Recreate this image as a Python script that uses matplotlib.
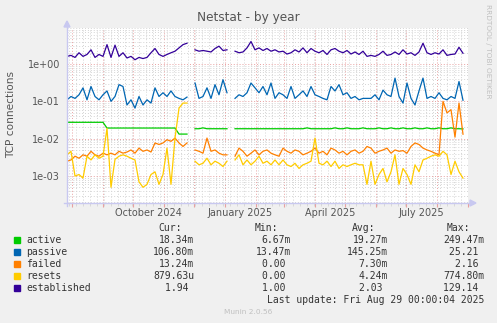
import matplotlib
matplotlib.use("Agg")
import matplotlib.pyplot as plt
import matplotlib.dates as mdates
import matplotlib.ticker as mticker
from matplotlib.patches import Rectangle, Polygon
from matplotlib.lines import Line2D
import numpy as np

# one sample every 4 days, starting 2024-07-27 (None = no data)
established = [1.6, 1.7, 1.5, 2.0, 1.6, 1.8, 2.4, 1.5, 1.8, 1.6,
               3.3, 1.5, 3.2, 1.6, 2.0, 1.45, 1.6, 1.3, 1.5, 1.4,
               1.5, 2.0, 2.6, 1.8, 1.6, 1.8, 2.0, 2.2, 2.7, 3.3,
               3.6, None, 2.4, 2.2, 2.3, 2.2, 2.1, 2.6, 3.0, 2.3,
               2.4, None, 2.2, 2.0, 2.1, 2.7, 4.0, 2.4, 2.7, 2.3,
               2.6, 2.2, 2.4, 2.1, 2.2, 1.85, 2.0, 2.4, 2.1, 2.7,
               2.0, 2.6, 2.2, 2.0, 2.3, 1.8, 2.4, 2.6, 2.2, 2.0,
               2.3, 1.85, 2.1, 1.8, 2.2, 1.6, 1.7, 1.6, 1.8, 2.2,
               1.7, 1.8, 2.1, 1.8, 2.4, 1.85, 2.0, 1.7, 2.1, 3.6,
               2.0, 1.8, 2.0, 1.85, 2.4, 1.7, 1.8, 1.85, 2.8, 1.94]

passive = [0.11, 0.135, 0.12, 0.15, 0.23, 0.11, 0.25, 0.135, 0.11, 0.15,
           0.19, 0.10, 0.135, 0.28, 0.25, 0.08, 0.11, 0.066, 0.135, 0.08,
           0.11, 0.09, 0.23, 0.135, 0.17, 0.135, 0.19, 0.135, 0.12, 0.11,
           0.13, None, 0.31, 0.12, 0.135, 0.23, 0.12, 0.28, 0.15, 0.38,
           0.17, None, 0.12, 0.15, 0.135, 0.17, 0.31, 0.23, 0.17, 0.25,
           0.15, 0.31, 0.12, 0.17, 0.15, 0.12, 0.25, 0.12, 0.15, 0.19,
           0.135, 0.25, 0.15, 0.135, 0.12, 0.11, 0.25, 0.19, 0.28, 0.15,
           0.17, 0.12, 0.135, 0.11, 0.12, 0.12, 0.12, 0.15, 0.11, 0.20,
           0.15, 0.135, 0.42, 0.135, 0.09, 0.31, 0.12, 0.08, 0.19, 0.42,
           0.12, 0.135, 0.12, 0.17, 0.12, 0.11, 0.135, 0.12, 0.34, 0.107]

active = [0.0275, 0.0275, 0.0275, 0.0275, 0.0275, 0.0275, 0.0275, 0.0275, 0.0275, 0.0275,
          0.0193, 0.0193, 0.0193, 0.0193, 0.0193, 0.0193, 0.0193, 0.0193, 0.0193, 0.0193,
          0.0193, 0.0193, 0.0193, 0.0193, 0.0193, 0.0193, 0.0193, 0.0193, 0.0133, 0.0133,
          0.0133, None, 0.0185, 0.0185, 0.0195, 0.0185, 0.0185, 0.0185, 0.0185, 0.0185,
          0.0185, None, 0.0185, 0.0185, 0.0185, 0.0185, 0.0185, 0.0185, 0.0185, 0.0185,
          0.0185, 0.0185, 0.0185, 0.0185, 0.0185, 0.0185, 0.0185, 0.0185, 0.0185, 0.0185,
          0.0195, 0.0185, 0.0185, 0.0185, 0.0185, 0.0185, 0.0185, 0.0195, 0.0185, 0.0185,
          0.0195, 0.0185, 0.0185, 0.0185, 0.0195, 0.0185, 0.0185, 0.0185, 0.0195, 0.0185,
          0.0185, 0.0195, 0.0185, 0.0185, 0.0195, 0.0185, 0.0185, 0.0195, 0.0185, 0.0185,
          0.0195, 0.0185, 0.0185, 0.0195, 0.0185, 0.0185, 0.0195, 0.0185, 0.0185, 0.0183]

failed = [0.0025, 0.0027, 0.0034, 0.003, 0.0037, 0.0034, 0.0046, 0.0037, 0.0034, 0.0041,
          0.0037, 0.0041, 0.0037, 0.0046, 0.0041, 0.0044, 0.005, 0.0041, 0.0056, 0.0046,
          0.005, 0.0044, 0.0077, 0.007, 0.0077, 0.0094, 0.0085, 0.0104, 0.0077, 0.0062,
          0.0077, None, 0.005, 0.0046, 0.0041, 0.0104, 0.0046, 0.005, 0.0041, 0.0037,
          0.0037, None, 0.0034, 0.0056, 0.0046, 0.0034, 0.0041, 0.005, 0.0037, 0.0046,
          0.005, 0.0041, 0.0037, 0.0034, 0.0056, 0.0046, 0.0041, 0.005, 0.0046, 0.0037,
          0.0041, 0.0046, 0.0056, 0.0041, 0.0046, 0.0037, 0.0056, 0.005, 0.0041, 0.0046,
          0.0037, 0.0046, 0.005, 0.0041, 0.0046, 0.0062, 0.0056, 0.0041, 0.0046, 0.005,
          0.0056, 0.0041, 0.005, 0.0046, 0.0048, 0.0041, 0.0062, 0.0077, 0.007, 0.0056,
          0.005, 0.0046, 0.0041, 0.0037, 0.10, 0.049, 0.06, 0.011, 0.09, 0.0132]

resets = [0.0037, 0.0046, 0.001, 0.0011, 0.00088, 0.0034, 0.0027, 0.0037, 0.003, 0.0034,
          0.019, 0.0005, 0.0028, 0.0034, 0.0037, 0.0034, 0.003, 0.0027, 0.0007, 0.0005,
          0.0006, 0.0011, 0.0013, 0.0006, 0.0011, 0.0056, 0.0006, 0.0104, 0.066, 0.09,
          0.09, None, 0.0025, 0.002, 0.0022, 0.003, 0.002, 0.0025, 0.0022, 0.0018,
          0.0025, None, 0.0027, 0.0037, 0.002, 0.0027, 0.002, 0.0025, 0.0034, 0.0022,
          0.0025, 0.002, 0.0027, 0.002, 0.0027, 0.002, 0.0018, 0.0022, 0.0016, 0.002,
          0.0022, 0.0025, 0.0104, 0.0022, 0.002, 0.0025, 0.0018, 0.0025, 0.0016, 0.002,
          0.0018, 0.002, 0.0022, 0.002, 0.002, 0.0006, 0.0025, 0.0006, 0.0011, 0.0016,
          0.0007, 0.0013, 0.0037, 0.0006, 0.0016, 0.0011, 0.0006, 0.002, 0.0013, 0.0027,
          0.003, 0.0034, 0.0037, 0.0034, 0.0046, 0.0037, 0.0011, 0.0025, 0.0013, 0.00088]

names = ["active", "passive", "failed", "resets", "established"]
colors = ["#00cc00", "#0066b3", "#ff8000", "#ffcc00", "#330099"]
cur = ["18.34m", "106.80m", "13.24m", "879.63u", "1.94 "]
mins = ["6.67m", "13.47m", "0.00 ", "0.00 ", "1.00 "]
avgs = ["19.27m", "145.25m", "7.30m", "4.24m", "2.03 "]
maxs = ["249.47m", "25.21 ", "2.16 ", "774.80m", "129.14 "]

W, H = 497, 323


def px(x, y):
    return (x / W, 1 - y / H)


fig = plt.figure(figsize=(W / 100, H / 100), dpi=100, facecolor="#f0f0f0")
ax = fig.add_axes([67 / W, 1 - 203 / H, 401 / W, 175 / H])
ax.set_facecolor("white")

dates = np.datetime64("2024-07-27") + np.arange(len(established)) * np.timedelta64(4, "D")
for name, col in zip(names, colors):
    vals = np.array(globals()[name], dtype=float)
    ax.plot(dates, vals, color=col, lw=0.9, zorder=3)

ax.set_yscale("log")
ax.set_ylim(1.9e-4, 9.2)
ax.set_xlim(np.datetime64("2024-07-27"), np.datetime64("2025-09-01"))

# grid: red = months / decades, gray = weeks / 2..9
ax.xaxis.set_major_locator(mdates.MonthLocator())
ax.xaxis.set_minor_locator(mdates.WeekdayLocator(byweekday=mdates.MO))
ax.xaxis.set_major_formatter(mticker.NullFormatter())
ax.yaxis.set_major_locator(mticker.LogLocator(base=10))
ax.yaxis.set_minor_locator(mticker.LogLocator(base=10, subs=np.arange(2, 10)))
ax.yaxis.set_major_formatter(mticker.FuncFormatter(lambda v, p: f"{v:.0e}"))
ax.yaxis.set_minor_formatter(mticker.NullFormatter())
ax.grid(which="minor", color="#d4d4d4", linestyle=(0, (1, 2)), lw=0.7, zorder=1)
ax.grid(which="major", color="#e8a0a0", linestyle=(0, (1, 2)), lw=0.7, zorder=2)
ax.tick_params(axis="x", which="major", length=3, color="#e8a0a0")
ax.tick_params(axis="x", which="minor", length=2, color="#d4d4d4")
ax.tick_params(axis="y", which="both", length=0, labelsize=7, labelcolor="#555555", pad=5)
for s in ax.spines.values():
    s.set_visible(False)

# quarter labels, centred mid month
for d, lab in [("2024-10-16", "October 2024"), ("2025-01-16", "January 2025"),
               ("2025-04-16", "April 2025"), ("2025-07-16", "July 2025")]:
    ax.text(np.datetime64(d), -0.055, lab, transform=ax.get_xaxis_transform(),
            ha="center", va="center", fontsize=7, color="#555555")

# axis lines with arrows
axcol = "#c8c8f0"
fig.add_artist(Line2D([px(67, 0)[0]] * 2, [px(0, 206)[1], px(0, 24)[1]], color=axcol, lw=1))
fig.add_artist(Line2D([px(64, 0)[0], px(472, 0)[0]], [px(0, 203)[1]] * 2, color=axcol, lw=1))
fig.add_artist(Polygon([px(64, 27), px(70, 27), px(67, 21)], closed=True, color=axcol,
                       transform=fig.transFigure))
fig.add_artist(Polygon([px(470, 200), px(470, 206), px(476, 203)], closed=True, color=axcol,
                       transform=fig.transFigure))

fig.text(*px(248.5, 18), "Netstat - by year", ha="center", va="center", fontsize=8.7,
         color="#555555")
fig.text(*px(11, 115), "TCP connections", rotation=90, ha="center", va="center",
         fontsize=7.6, color="#555555")
fig.text(*px(488, 4), "RRDTOOL / TOBI OETIKER", rotation=270, ha="center", va="top",
         fontsize=5.3, color="#c0c0c0")

# legend table
mono = "DejaVu Sans Mono"
tcol = "#333333"
for x, h in [(182, "Cur:"), (278, "Min:"), (375, "Avg:"), (470, "Max:")]:
    fig.text(*px(x, 228), h, ha="right", va="center", fontsize=7, family=mono, color=tcol)
rows_y = [240, 252, 264, 276, 288]
for i in range(len(names)):
    y = rows_y[i]
    fig.add_artist(Rectangle(px(14, y + 3), 6 / W, 6 / H, color=colors[i],
                             transform=fig.transFigure))
    fig.text(*px(26, y), names[i], ha="left", va="center", fontsize=7, family=mono, color=tcol)
    for x, col in [(194, cur), (291, mins), (388, avgs), (484, maxs)]:
        fig.text(*px(x, y), col[i], ha="right", va="center", fontsize=7, family=mono, color=tcol)
fig.text(*px(484, 300), "Last update: Fri Aug 29 00:00:04 2025", ha="right", va="center",
         fontsize=7, family=mono, color=tcol)
fig.text(*px(248, 312), "Munin 2.0.56", ha="center", va="center", fontsize=5.3, color="#c0c0c0")

fig.savefig("out.png", dpi=100, facecolor=fig.get_facecolor())
